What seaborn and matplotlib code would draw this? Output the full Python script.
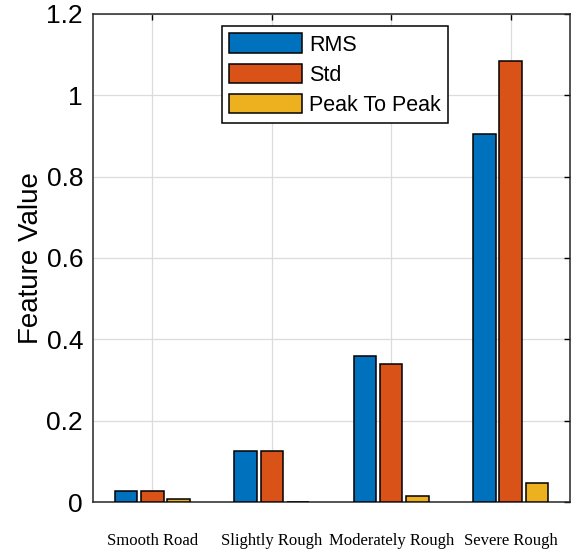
import pandas as pd
import matplotlib.pyplot as plt
import seaborn as sns
from matplotlib.ticker import FuncFormatter

# Data
categories = ["Smooth Road", "Slightly Rough", "Moderately Rough", "Severe Rough"]
rms = [0.027, 0.125, 0.36, 0.905]
std = [0.027, 0.125, 0.34, 1.085]
peak_to_peak = [0.008, 0.0, 0.016, 0.048]
series = ["RMS", "Std", "Peak To Peak"]
colors = ["#0072BD", "#D95319", "#EDB120"]

df = pd.DataFrame({
    "Road": categories * 3,
    "Feature": [s for s in series for _ in categories],
    "Value": rms + std + peak_to_peak,
})

sns.set_style("white")
plt.rcParams["font.family"] = ["Liberation Sans", "DejaVu Sans"]
plt.rcParams["text.color"] = "black"
plt.rcParams["axes.labelcolor"] = "black"
plt.rcParams["xtick.color"] = "black"
plt.rcParams["ytick.color"] = "black"

fig = plt.figure(figsize=(5.76, 5.5), dpi=100)
ax = fig.add_axes([0.161, 0.087, 0.829, 0.888])

sns.barplot(data=df, x="Road", y="Value", hue="Feature", order=categories,
            hue_order=series, palette=colors, width=0.66, gap=0.14,
            edgecolor="black", linewidth=1.1, saturation=1, ax=ax, zorder=3)

ax.set_xlim(-0.5, 3.5)
ax.set_ylim(0, 1.2)
ax.set_yticks([0, 0.2, 0.4, 0.6, 0.8, 1.0, 1.2])
ax.yaxis.set_major_formatter(FuncFormatter(lambda v, p: f"{v:g}"))
ax.grid(True, color="#dcdcdc", linewidth=0.9, zorder=0)
ax.set_axisbelow(True)

ax.set_xlabel("")
ax.set_ylabel("Feature Value", fontsize=20, labelpad=2)
ax.tick_params(axis="y", labelsize=19, direction="in", length=4, pad=7,
               right=True, width=1)
ax.tick_params(axis="x", direction="in", length=4, pad=22, top=True, width=1)
for lab in ax.get_xticklabels():
    lab.set_family(["Liberation Serif", "DejaVu Serif"])
    lab.set_fontsize(12)
for s in ax.spines.values():
    s.set_color("#262626")
    s.set_linewidth(1.1)

leg = ax.legend(loc="upper left", bbox_to_anchor=(0.27, 0.975),
                borderaxespad=0, fontsize=15.5, frameon=True, fancybox=False,
                edgecolor="black", framealpha=1, handlelength=3.4,
                handleheight=1.0, labelspacing=0.38, handletextpad=0.3,
                borderpad=0.35, title=None)
leg.get_frame().set_linewidth(1.1)

fig.savefig("out.png", dpi=100)
